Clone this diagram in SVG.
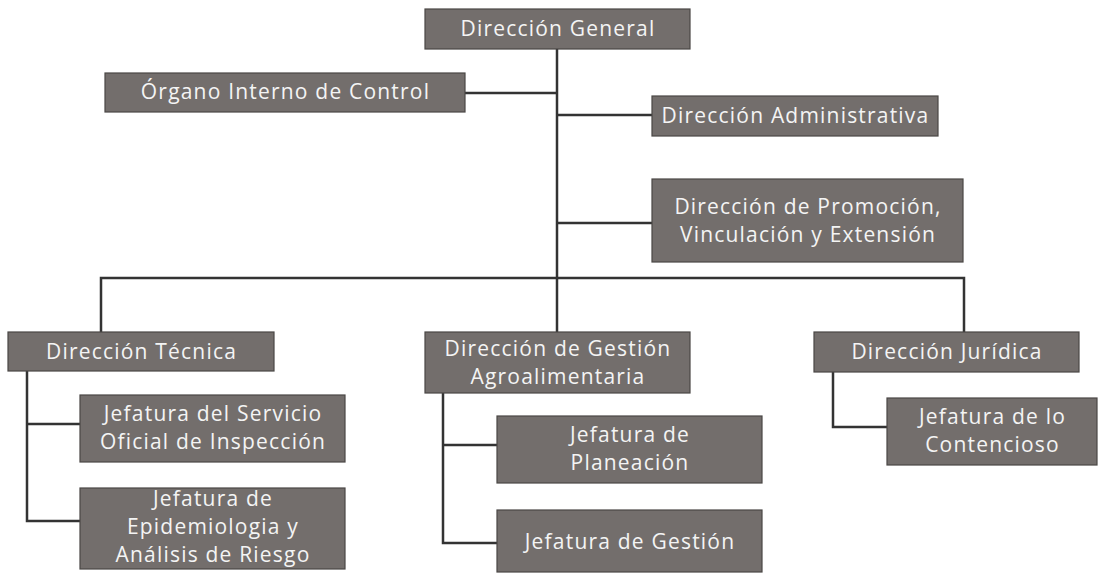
<svg xmlns="http://www.w3.org/2000/svg" width="1110" height="573" viewBox="0 0 1110 573">
<style>
.box{fill:#736e6c;stroke:#4a4745;stroke-width:1.2}
.t{font-family:"Open Sans","Liberation Sans",sans-serif;font-size:21px;letter-spacing:1.2px;fill:#f4f4f4;text-anchor:middle;dominant-baseline:central}
.c{fill:none;stroke:#333;stroke-width:2.5}
</style>
<rect width="1110" height="573" fill="#ffffff"/>
<g id="connectors">
<path class="c" d="M557 49V278"/>
<path class="c" d="M465 93H557"/>
<path class="c" d="M557 115H652"/>
<path class="c" d="M557 223H652"/>
<path class="c" d="M101 332V278H964V332"/>
<path class="c" d="M557 278V332"/>
<path class="c" d="M27 371V521H80M27 424H80"/>
<path class="c" d="M443 393V543H497M443 445H497"/>
<path class="c" d="M833 372V427H887"/>
</g>
<g id="n-general"><rect class="box" x="425" y="9" width="265" height="40"/><text class="t" x="558" y="28">Dirección General</text></g>
<g id="n-organo"><rect class="box" x="105" y="73" width="360" height="39"/><text class="t" x="285.5" y="91">Órgano Interno de Control</text></g>
<g id="n-admin"><rect class="box" x="652" y="96" width="286" height="40"/><text class="t" x="795.5" y="115">Dirección Administrativa</text></g>
<g id="n-promocion"><rect class="box" x="652" y="179" width="311" height="83"/><text class="t" x="808" y="206">Dirección de Promoción,</text><text class="t" x="808" y="234">Vinculación y Extensión</text></g>
<g id="n-tecnica"><rect class="box" x="8" y="332" width="266" height="39"/><text class="t" x="141.5" y="351">Dirección Técnica</text></g>
<g id="n-servicio"><rect class="box" x="80" y="395" width="265" height="67"/><text class="t" x="213" y="413">Jefatura del Servicio</text><text class="t" x="213" y="441">Oficial de Inspección</text></g>
<g id="n-epidem"><rect class="box" x="80" y="488" width="265" height="81"/><text class="t" x="213" y="498">Jefatura de</text><text class="t" x="213" y="526">Epidemiologia y</text><text class="t" x="213" y="554">Análisis de Riesgo</text></g>
<g id="n-gestionagro"><rect class="box" x="425" y="332" width="265" height="61"/><text class="t" x="558" y="348">Dirección de Gestión</text><text class="t" x="558" y="376">Agroalimentaria</text></g>
<g id="n-planeacion"><rect class="box" x="497" y="416" width="265" height="67"/><text class="t" x="630" y="434">Jefatura de</text><text class="t" x="630" y="462">Planeación</text></g>
<g id="n-gestion"><rect class="box" x="497" y="510" width="265" height="62"/><text class="t" x="630" y="541">Jefatura de Gestión</text></g>
<g id="n-juridica"><rect class="box" x="814" y="332" width="265" height="40"/><text class="t" x="947" y="351">Dirección Jurídica</text></g>
<g id="n-contencioso"><rect class="box" x="887" y="398" width="210" height="67"/><text class="t" x="992.5" y="416">Jefatura de lo</text><text class="t" x="992.5" y="444">Contencioso</text></g>
</svg>
